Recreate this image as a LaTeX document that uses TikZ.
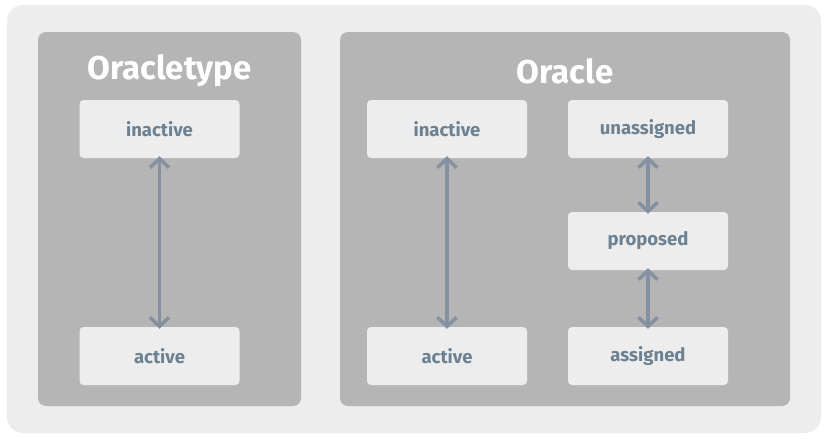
\documentclass[tikz,border=0pt]{standalone}
\usepackage{fontspec}
\setmainfont{Fira Sans}
\usetikzlibrary{arrows.meta}
\definecolor{bgout}{HTML}{EDEDED}
\definecolor{panel}{HTML}{B5B5B5}
\definecolor{boxfill}{HTML}{EDEDED}
\definecolor{txt}{HTML}{6C8191}
\definecolor{arr}{HTML}{8590A0}
\tikzset{
  stbox/.style={fill=boxfill, draw=none, rounded corners=4pt, minimum width=160pt, minimum height=58pt,
    font=\fontsize{18.5}{22}\selectfont\bfseries, text=txt, inner sep=0pt},
  pnl/.style={fill=panel, rounded corners=8pt},
  ttl/.style={text=white, font=\fontsize{33}{38}\selectfont\bfseries},
  barb/.tip={Straight Barb[length=9pt,width=19pt,line width=3.5pt]},
  conn/.style={draw=arr, line width=3.5pt, barb-barb}
}
\begin{document}
\begin{tikzpicture}[x=1pt,y=-1pt]
\useasboundingbox (0,0) rectangle (828,439);
\fill[white] (0,0) rectangle (828,439);
\fill[bgout, rounded corners=16pt] (7,5) rectangle (821,433);
\fill[pnl] (38,32) rectangle (301,406);
\fill[pnl] (340,32) rectangle (790,406);
\node[ttl] (t1) at (169.5,71) {Oracletype};
\node[ttl] (t2) at (565,71) {Oracle};
\node[stbox] (li) at (159.5,129) {inactive};
\node[stbox] (la) at (159.5,356) {active};
\node[stbox] (ri) at (447,129) {inactive};
\node[stbox] (ra) at (447,356) {active};
\node[stbox] (ru) at (648,129) {unassigned};
\node[stbox] (rp) at (648,241) {proposed};
\node[stbox] (rs) at (648,356) {assigned};
\draw[conn] ([yshift=2pt]li.south) -- ([yshift=-2pt]la.north);
\draw[conn] ([yshift=2pt]ri.south) -- ([yshift=-2pt]ra.north);
\draw[conn] ([yshift=2pt]ru.south) -- ([yshift=-2pt]rp.north);
\draw[conn] ([yshift=2pt]rp.south) -- ([yshift=-2pt]rs.north);
\end{tikzpicture}
\end{document}
